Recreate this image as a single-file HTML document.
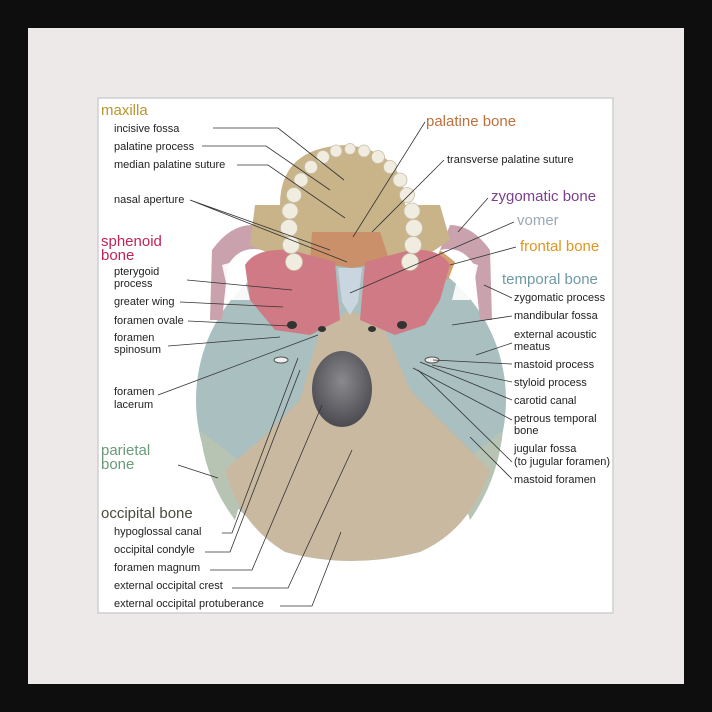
<!DOCTYPE html>
<html><head><meta charset="utf-8"><style>
html,body{margin:0;padding:0;width:712px;height:712px;overflow:hidden;background:#111}
svg{display:block}
text{font-family:"Liberation Sans",sans-serif}
.l{font-size:11px;fill:#222}
.h{font-size:15px}
</style></head><body>
<svg width="712" height="712" viewBox="0 0 712 712">
<defs>
<radialGradient id="fm" cx="0.5" cy="0.4" r="0.6"><stop offset="0" stop-color="#8a8a8e"/><stop offset="1" stop-color="#4a4a50"/></radialGradient>
</defs>
<rect x="0" y="0" width="712" height="712" fill="#0e0e0e"/>
<rect x="28" y="28" width="656" height="656" fill="#ece9e8"/>
<rect x="98" y="98" width="515" height="515" fill="#fff" stroke="#cfcfcf" stroke-width="1.5"/>

<ellipse cx="351" cy="400" rx="155" ry="158" fill="#a9bfc0"/>
<path d="M200 430 Q205 480 235 520 L250 470 Z" fill="#b7c4b4"/>
<path d="M503 430 Q498 480 470 520 L455 470 Z" fill="#b7c4b4"/>
<path d="M225 470 L260 440 L300 400 L320 330 L350 310 L385 330 L410 390 L440 420 L470 450 L490 470 Q470 530 420 552 Q351 570 285 552 Q240 525 225 470 Z" fill="#c8b9a0"/>
<path d="M212 250 Q230 225 252 225 L262 250 Q240 245 228 265 L222 320 L210 320 Z" fill="#c9a2ad"/>
<path d="M490 250 Q472 225 450 225 L440 250 Q462 245 474 265 L480 320 L492 320 Z" fill="#c9a2ad"/>
<path d="M222 265 L230 300 L250 300 L240 260 Z" fill="#fff" opacity="0.9"/>
<path d="M478 265 L470 300 L452 300 L462 260 Z" fill="#fff" opacity="0.9"/>
<path d="M255 205 L280 205 Q280 148 345 145 Q405 150 405 205 L440 205 L450 240 L420 260 L285 260 L250 245 Z" fill="#c9b48a"/>
<path d="M312 232 L380 232 L390 262 L352 268 L310 262 Z" fill="#c9906a"/>
<path d="M440 250 L455 262 L448 280 L432 270 Z" fill="#d4a070"/>
<path d="M245 265 Q255 248 290 250 L335 262 L340 320 L310 335 L275 330 L250 300 Z" fill="#cf7a84"/>
<path d="M450 265 Q440 248 410 250 L365 262 L360 320 L395 335 L425 325 L440 300 Z" fill="#cf7a84"/>
<path d="M338 268 L362 268 L358 302 L350 315 L342 302 Z" fill="#c9d6e0"/>
<g fill="#f1ece0" stroke="#c8bfa8" stroke-width="0.8">
<circle cx="294" cy="262" r="8.5"/><circle cx="291" cy="245" r="8.5"/><circle cx="289" cy="228" r="8.5"/><circle cx="290" cy="211" r="8"/><circle cx="294" cy="195" r="7.5"/><circle cx="301" cy="180" r="7"/><circle cx="311" cy="167" r="6.5"/><circle cx="323" cy="157" r="6.5"/><circle cx="336" cy="151" r="6"/>
<circle cx="410" cy="262" r="8.5"/><circle cx="413" cy="245" r="8.5"/><circle cx="414" cy="228" r="8.5"/><circle cx="412" cy="211" r="8"/><circle cx="407" cy="195" r="7.5"/><circle cx="400" cy="180" r="7"/><circle cx="390" cy="167" r="6.5"/><circle cx="378" cy="157" r="6.5"/><circle cx="364" cy="151" r="6"/><circle cx="350" cy="149" r="5.5"/>
</g>
<ellipse cx="342" cy="389" rx="30" ry="38" fill="url(#fm)"/>
<ellipse cx="292" cy="325" rx="5" ry="4" fill="#333"/>
<ellipse cx="402" cy="325" rx="5" ry="4" fill="#333"/>
<ellipse cx="322" cy="329" rx="4" ry="3" fill="#333"/>
<ellipse cx="372" cy="329" rx="4" ry="3" fill="#333"/>
<ellipse cx="432" cy="360" rx="7" ry="3" fill="#eee" stroke="#555"/>
<ellipse cx="281" cy="360" rx="7" ry="3" fill="#eee" stroke="#555"/>

<g stroke="#333" stroke-width="0.8" fill="none">
<path d="M213 128 H278 L344 180"/>
<path d="M202 146 H266 L330 190"/>
<path d="M237 165 H268 L345 218"/>
<path d="M190 200 L347 262 M190 200 L330 250"/>
<path d="M187 280 L292 290"/>
<path d="M180 302 L283 307"/>
<path d="M188 321 L290 326"/>
<path d="M168 346 L280 337"/>
<path d="M158 395 L318 335"/>
<path d="M178 465 L218 478"/>
<path d="M222 533 H232 L298 358"/>
<path d="M205 552 H230 L300 370"/>
<path d="M210 570 H252 L322 405"/>
<path d="M232 588 H288 L352 450"/>
<path d="M280 606 H312 L341 532"/>
<path d="M425 122 L353 237"/>
<path d="M444 160 L372 232"/>
<path d="M488 198 L458 232"/>
<path d="M514 222 L350 293"/>
<path d="M516 247 L450 265"/>
<path d="M512 298 L484 285"/>
<path d="M512 316 L452 325"/>
<path d="M512 343 L476 355"/>
<path d="M512 364 L433 360"/>
<path d="M512 382 L432 365"/>
<path d="M512 400 L420 362"/>
<path d="M512 420 L413 368"/>
<path d="M512 462 L418 370"/>
<path d="M512 479 L470 437"/>
</g>

<text x="101" y="115" class="h" fill="#b8962e">maxilla</text>
<text x="114" y="132" class="l">incisive fossa</text>
<text x="114" y="150" class="l">palatine process</text>
<text x="114" y="168" class="l">median palatine suture</text>
<text x="114" y="203" class="l">nasal aperture</text>
<text x="101" y="246" class="h" fill="#c0245a">sphenoid</text>
<text x="101" y="260" class="h" fill="#c0245a">bone</text>
<text x="114" y="275" class="l">pterygoid</text>
<text x="114" y="287" class="l">process</text>
<text x="114" y="305" class="l">greater wing</text>
<text x="114" y="324" class="l">foramen ovale</text>
<text x="114" y="341" class="l">foramen</text>
<text x="114" y="353" class="l">spinosum</text>
<text x="114" y="395" class="l">foramen</text>
<text x="114" y="408" class="l">lacerum</text>
<text x="101" y="455" class="h" fill="#6a9a7a">parietal</text>
<text x="101" y="469" class="h" fill="#6a9a7a">bone</text>
<text x="101" y="518" class="h" fill="#4a4a3e">occipital bone</text>
<text x="114" y="535" class="l">hypoglossal canal</text>
<text x="114" y="553" class="l">occipital condyle</text>
<text x="114" y="571" class="l">foramen magnum</text>
<text x="114" y="589" class="l">external occipital crest</text>
<text x="114" y="607" class="l">external occipital protuberance</text>

<text x="426" y="126" class="h" fill="#c0703a">palatine bone</text>
<text x="447" y="163" class="l">transverse palatine suture</text>
<text x="491" y="201" class="h" fill="#7b3f8c">zygomatic bone</text>
<text x="517" y="225" class="h" fill="#9aa9b5">vomer</text>
<text x="520" y="251" class="h" fill="#e0961e">frontal bone</text>
<text x="502" y="284" class="h" fill="#6e9aa4">temporal bone</text>
<text x="514" y="301" class="l">zygomatic process</text>
<text x="514" y="319" class="l">mandibular fossa</text>
<text x="514" y="338" class="l">external acoustic</text>
<text x="514" y="350" class="l">meatus</text>
<text x="514" y="368" class="l">mastoid process</text>
<text x="514" y="386" class="l">styloid process</text>
<text x="514" y="404" class="l">carotid canal</text>
<text x="514" y="422" class="l">petrous temporal</text>
<text x="514" y="434" class="l">bone</text>
<text x="514" y="452" class="l">jugular fossa</text>
<text x="514" y="465" class="l">(to jugular foramen)</text>
<text x="514" y="483" class="l">mastoid foramen</text>
</svg>
</body></html>
